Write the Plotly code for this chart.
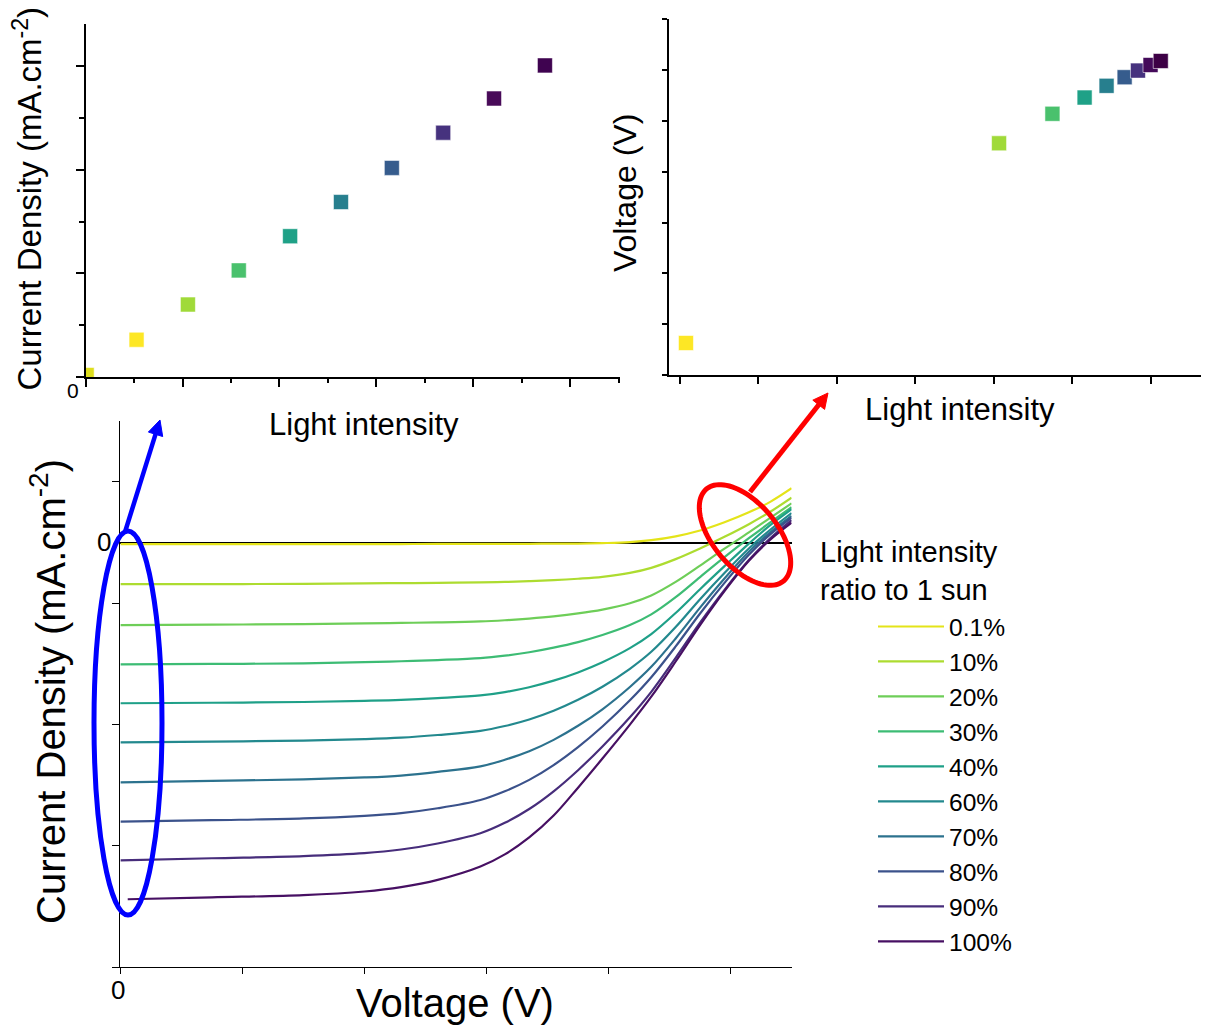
import numpy as np
import plotly.graph_objects as go

# the page body has an 8px margin, so the figure is drawn 8px smaller and offset
OFF = 8
W, H = 1209 - OFF, 1028 - OFF
FONT = "Liberation Sans, Arial, sans-serif"

# ---------------- data ----------------
intensity_labels = ["0.1%", "10%", "20%", "30%", "40%", "60%", "70%", "80%", "90%", "100%"]
curve_colors = ["#e4e419", "#addc30", "#6ece58", "#3dbc74", "#1fa088",
                "#23898e", "#2c728e", "#3b528b", "#472d7b", "#471063"]

voltage = [0, 0.15, 0.3, 0.4, 0.46, 0.52, 0.59, 0.63, 0.67, 0.71,
           0.75, 0.79, 0.835, 0.87, 0.91, 0.95, 0.99, 1.03, 1.065, 1.1]
voltage_100 = [0.012, 0.15, 0.3, 0.4, 0.46, 0.52, 0.59, 0.63, 0.67, 0.71,
               0.75, 0.79, 0.835, 0.87, 0.91, 0.95, 0.99, 1.03, 1.065, 1.1]

j_0p1 = [-0.06, -0.06, -0.06, -0.06, -0.06, -0.05, -0.05, -0.05, -0.05, -0.04,
         -0.04, -0.02, 0.02, 0.1, 0.26, 0.5, 0.84, 1.25, 1.68, 2.24]
j_10 = [-1.71, -1.71, -1.70, -1.68, -1.67, -1.66, -1.64, -1.62, -1.59, -1.55,
        -1.49, -1.41, -1.25, -1.04, -0.68, -0.24, 0.24, 0.76, 1.27, 1.85]
j_20 = [-3.40, -3.38, -3.36, -3.33, -3.31, -3.29, -3.25, -3.2, -3.13, -3.04,
        -2.92, -2.76, -2.5, -2.18, -1.62, -0.95, -0.25, 0.42, 1.02, 1.62]
j_30 = [-5.02, -5.0, -4.98, -4.93, -4.89, -4.84, -4.76, -4.66, -4.52, -4.33,
        -4.1, -3.81, -3.4, -2.96, -2.25, -1.42, -0.6, 0.18, 0.83, 1.46]
j_40 = [-6.62, -6.6, -6.57, -6.52, -6.48, -6.41, -6.3, -6.16, -5.96, -5.69,
        -5.35, -4.93, -4.35, -3.77, -2.9, -1.92, -0.97, -0.04, 0.72, 1.38]
j_60 = [-8.23, -8.2, -8.16, -8.1, -8.04, -7.93, -7.76, -7.56, -7.29, -6.93,
        -6.48, -5.94, -5.2, -4.5, -3.48, -2.33, -1.25, -0.24, 0.53, 1.22]
j_70 = [-9.88, -9.82, -9.76, -9.68, -9.6, -9.45, -9.22, -8.95, -8.6, -8.13,
        -7.55, -6.87, -5.95, -5.12, -3.95, -2.68, -1.48, -0.38, 0.42, 1.1]
j_80 = [-11.5, -11.44, -11.37, -11.26, -11.15, -10.95, -10.61, -10.25, -9.78, -9.17,
        -8.43, -7.58, -6.5, -5.55, -4.28, -2.92, -1.66, -0.5, 0.34, 1.03]
j_90 = [-13.1, -13.01, -12.92, -12.8, -12.65, -12.4, -11.98, -11.55, -10.98, -10.25,
        -9.38, -8.4, -7.2, -6.15, -4.75, -3.3, -1.95, -0.72, 0.18, 0.93]
j_100 = [-14.7, -14.62, -14.53, -14.38, -14.2, -13.9, -13.35, -12.85, -12.15, -11.25,
         -10.1, -8.9, -7.5, -6.35, -4.9, -3.4, -2.0, -0.75, 0.12, 0.82]
jv_curves = [j_0p1, j_10, j_20, j_30, j_40, j_60, j_70, j_80, j_90, j_100]

# top-left: current density vs light intensity
jsc_intensity = [0.2, 10.5, 21.1, 31.6, 42.2, 52.7, 63.2, 73.8, 84.3, 94.8]
jsc_values = [0.2, 3.6, 7.0, 10.3, 13.6, 16.9, 20.2, 23.6, 26.9, 30.1]
jsc_colors = ["#dede1e", "#fde725", "#a0da39", "#4ac16d", "#1fa187",
              "#277f8e", "#365c8d", "#46327e", "#480a58", "#3f0350"]

# top-right: voltage vs light intensity
voc_intensity = [0.08, 4.07, 4.75, 5.16, 5.44, 5.67, 5.84, 6.0, 6.13]
voc_values = [0.63, 4.56, 5.14, 5.46, 5.69, 5.86, 5.99, 6.10, 6.18]
voc_colors = ["#fde725", "#a0da39", "#4ac16d", "#1fa187", "#277f8e",
              "#365c8d", "#46327e", "#440a5a", "#3d0045"]


def px_x(p):
    return (p - OFF) / W


def px_y(p):
    return 1 - (p - OFF) / H


fig = go.Figure()

# main J-V curves
for name, col, jj in zip(intensity_labels, curve_colors, jv_curves):
    vv = voltage_100 if name == "100%" else voltage
    fig.add_trace(go.Scatter(x=vv, y=jj, mode="lines", name=name,
                             line=dict(color=col, width=2.2, shape="spline", smoothing=1.0),
                             xaxis="x", yaxis="y", showlegend=True))

# top-left scatter
fig.add_trace(go.Scatter(x=jsc_intensity, y=jsc_values, mode="markers",
                         marker=dict(symbol="square", size=15, color=jsc_colors,
                                     line=dict(width=0.8, color="rgba(255,255,255,0.7)")),
                         xaxis="x2", yaxis="y2", showlegend=False, cliponaxis=True))
# top-right scatter
fig.add_trace(go.Scatter(x=voc_intensity, y=voc_values, mode="markers",
                         marker=dict(symbol="square", size=15, color=voc_colors,
                                     line=dict(width=0.8, color="rgba(255,255,255,0.7)")),
                         xaxis="x3", yaxis="y3", showlegend=False, cliponaxis=True))

ax_common = dict(showgrid=False, showline=True, linecolor="black", ticks="outside",
                 tickcolor="black", showticklabels=False, zeroline=False)

fig.update_layout(
    width=W, height=H,
    margin=dict(l=0, r=0, t=0, b=0),
    paper_bgcolor="white", plot_bgcolor="white",
    font=dict(family=FONT, color="black"),
    # main
    xaxis=dict(**ax_common, domain=[px_x(120.4), px_x(791.6)], range=[0, 1.1],
               tick0=0, dtick=0.2, ticklen=6, tickwidth=1.3, linewidth=1.4, anchor="y"),
    yaxis=dict(showgrid=False, showline=True, linecolor="black", ticks="outside",
               tickcolor="black", showticklabels=False,
               zeroline=True, zerolinecolor="black", zerolinewidth=1.6,
               domain=[px_y(967.2), px_y(421.3)], range=[-17.5, 5],
               tick0=2.5, dtick=5, ticklen=7, tickwidth=1.3, linewidth=1.4, anchor="x"),
    # top-left
    xaxis2=dict(**ax_common, domain=[px_x(85.7), px_x(620)], range=[0, 110.3],
                tick0=0, dtick=20, ticklen=8, tickwidth=1.5, linewidth=2.2, anchor="y2",
                minor=dict(dtick=10, ticklen=4, tickwidth=1.5, tickcolor="black", ticks="outside")),
    yaxis2=dict(**ax_common, domain=[px_y(377), px_y(24)], range=[0, 34.1],
                tick0=0, dtick=10, ticklen=8, tickwidth=1.5, linewidth=2.2, anchor="x2",
                minor=dict(dtick=5, ticklen=5, tickwidth=1.5, tickcolor="black", ticks="outside")),
    # top-right
    xaxis3=dict(**ax_common, domain=[px_x(668.7), px_x(1207.8)], range=[-0.14, 6.73],
                tick0=0, dtick=1, ticklen=7, tickwidth=1.5, linewidth=2.2, anchor="y3"),
    yaxis3=dict(**ax_common, domain=[px_y(375), px_y(19.3)], range=[0, 7],
                tick0=0, dtick=1, ticklen=5, tickwidth=1.5, linewidth=2.2, anchor="x3"),
    legend=dict(x=px_x(873), y=px_y(604), xanchor="left", yanchor="top",
                font=dict(family=FONT, size=24.6, color="black"),
                bgcolor="rgba(0,0,0,0)", itemwidth=66, tracegroupgap=0),
)

annotations = [
    # top-left
    dict(text="Current Density (mA.cm<sup>-2</sup>)", x=px_x(27.5), y=px_y(199), textangle=-90,
         font=dict(size=33)),
    dict(text="Light intensity", x=px_x(363.5), y=px_y(424), font=dict(size=31)),
    dict(text="0", x=px_x(73), y=px_y(390), font=dict(size=21)),
    # top-right
    dict(text="Voltage (V)", x=px_x(625), y=px_y(193), textangle=-90, font=dict(size=32)),
    dict(text="Light intensity", x=px_x(960), y=px_y(410), font=dict(size=31)),
    # main
    dict(text="Current Density (mA.cm<sup>-2</sup>)", x=px_x(48), y=px_y(692), textangle=-90,
         font=dict(size=40)),
    dict(text="Voltage (V)", x=px_x(455), y=px_y(1003), font=dict(size=40)),
    dict(text="0", x=px_x(104), y=px_y(542), font=dict(size=26)),
    dict(text="0", x=px_x(118), y=px_y(990), font=dict(size=26)),
    # legend title
    dict(text="Light intensity<br>ratio to 1 sun", x=px_x(818), y=px_y(571), xanchor="left",
         align="left", font=dict(size=29)),
]
for a in annotations:
    a.setdefault("xanchor", "center")
    a.update(xref="paper", yref="paper", showarrow=False, yanchor="middle")
    a["font"].update(family=FONT, color="black")
fig.update_layout(annotations=annotations)

shapes = []

# blue ellipse
bcx, bcy, brx, bry = 128, 723, 34, 192
shapes.append(dict(type="circle", xref="paper", yref="paper",
                   x0=px_x(bcx - brx), x1=px_x(bcx + brx), y0=px_y(bcy + bry), y1=px_y(bcy - bry),
                   line=dict(color="#0000ff", width=5), layer="above"))

# red rotated ellipse
rcx, rcy, ra, rb, th = 745, 535, 60, 32, np.deg2rad(50)
t = np.linspace(0, 2 * np.pi, 97)
ex = rcx + ra * np.cos(t) * np.cos(th) - rb * np.sin(t) * np.sin(th)
ey = rcy + ra * np.cos(t) * np.sin(th) + rb * np.sin(t) * np.cos(th)
path = "M " + " L ".join(f"{px_x(a):.5f},{px_y(b):.5f}" for a, b in zip(ex, ey)) + " Z"
shapes.append(dict(type="path", xref="paper", yref="paper", path=path,
                   line=dict(color="#ff0000", width=5), layer="above"))


def arrow(x0, y0, x1, y1, color, width, head_len=15, head_half=7.5):
    dx, dy = x1 - x0, y1 - y0
    n = np.hypot(dx, dy)
    ux, uy = dx / n, dy / n
    bx, by = x1 - ux * head_len, y1 - uy * head_len
    shapes.append(dict(type="line", xref="paper", yref="paper",
                       x0=px_x(x0), y0=px_y(y0), x1=px_x(bx + ux * 2), y1=px_y(by + uy * 2),
                       line=dict(color=color, width=width), layer="above"))
    lx, ly = bx - uy * head_half, by + ux * head_half
    rx, ry = bx + uy * head_half, by - ux * head_half
    p = (f"M {px_x(x1):.5f},{px_y(y1):.5f} L {px_x(lx):.5f},{px_y(ly):.5f} "
         f"L {px_x(rx):.5f},{px_y(ry):.5f} Z")
    shapes.append(dict(type="path", xref="paper", yref="paper", path=p,
                       fillcolor=color, line=dict(color=color, width=1), layer="above"))


arrow(125, 532, 160, 420, "#0000ff", 4.5)
arrow(750, 492, 828, 393, "#ff0000", 5)

fig.update_layout(shapes=shapes)

fig.write_html("out.html")
